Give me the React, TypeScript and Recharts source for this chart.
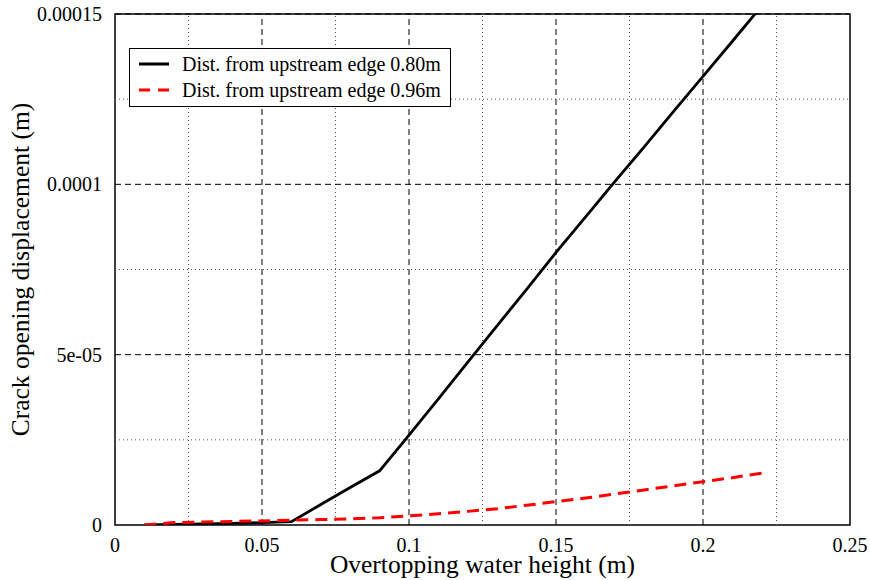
import React from 'react';
import { LineChart, Line, XAxis, YAxis, ReferenceLine, ReferenceArea, Legend } from 'recharts';

const waterHeights = [0.01, 0.02, 0.03, 0.04, 0.05, 0.06, 0.07, 0.08, 0.09, 0.10, 0.11, 0.12, 0.13, 0.14, 0.15, 0.16, 0.17, 0.18, 0.19, 0.20, 0.21, 0.22];
const dist080 = [0, 0.2e-6, 0.35e-6, 0.5e-6, 0.7e-6, 1.0e-6, 6.0e-6, 11.0e-6, 15.9e-6, 26.4e-6, 37.0e-6, 47.8e-6, 58.5e-6, 69.2e-6, 80.0e-6, 90.4e-6, 100.8e-6, 111.0e-6, 121.4e-6, 131.7e-6, 142.0e-6, 152.4e-6];
const dist096 = [0, 0.7e-6, 0.9e-6, 1.05e-6, 1.2e-6, 1.4e-6, 1.6e-6, 1.8e-6, 2.1e-6, 2.7e-6, 3.3e-6, 4.0e-6, 4.8e-6, 5.8e-6, 6.85e-6, 7.9e-6, 9.1e-6, 10.3e-6, 11.5e-6, 12.7e-6, 13.9e-6, 15.2e-6];

const seriesNames = ['Dist. from upstream edge 0.80m', 'Dist. from upstream edge 0.96m'];

const xTicks = [0, 0.05, 0.1, 0.15, 0.2, 0.25];
const xTickLabels = ['0', '0.05', '0.1', '0.15', '0.2', '0.25'];
const xMinor = [0.025, 0.075, 0.125, 0.175, 0.225];
const yTicks = [0, 0.00005, 0.0001, 0.00015];
const yTickLabels = ['0', '5e-05', '0.0001', '0.00015'];
const yMinor = [0.000025, 0.000075, 0.000125];

const data = waterHeights.map((x, i) => ({ x, a: dist080[i], b: dist096[i] }));

const FONT = '"Liberation Serif", "Times New Roman", Tinos, "DejaVu Serif", serif';

const LegendBox = () => (
  <div
    style={{
      background: '#fff',
      border: '1.2px solid #000',
      padding: '2px 8px 3px 8px',
      fontFamily: FONT,
      fontSize: 20,
      color: '#000',
      lineHeight: '26px',
      whiteSpace: 'nowrap',
      width: 322,
      boxSizing: 'border-box',
    }}
  >
    {[0, 1].map((i) => (
      <div key={i} style={{ display: 'flex', alignItems: 'center' }}>
        <svg width={40} height={10} style={{ marginRight: 4, flex: 'none' }}>
          <line
            x1={1}
            x2={31}
            y1={5}
            y2={5}
            stroke={i === 0 ? '#000' : '#ff0000'}
            strokeWidth={3}
            strokeDasharray={i === 0 ? undefined : '11 8'}
          />
        </svg>
        <span>{seriesNames[i]}</span>
      </div>
    ))}
  </div>
);

export default function App() {
  return (
    <div style={{ position: 'absolute', left: 0, top: 0, width: 870, height: 580, background: '#fff' }}>
      <LineChart width={870} height={580} data={data} margin={{ top: 14, right: 20, bottom: 0, left: 0 }}>
        <XAxis
          type="number"
          dataKey="x"
          domain={[0, 0.25]}
          ticks={xTicks}
          tickFormatter={(v: number) => xTickLabels[xTicks.findIndex((t) => Math.abs(t - v) < 1e-9)] ?? String(v)}
          axisLine={false}
          tickLine={false}
          tickMargin={7}
          height={55}
          tick={{ fill: '#000', fontSize: 20, fontFamily: FONT }}
          label={{ value: 'Overtopping water height (m)', position: 'insideBottom', offset: 7, fill: '#000', fontSize: 25.5, fontFamily: FONT }}
        />
        <YAxis
          type="number"
          domain={[0, 0.00015]}
          allowDataOverflow
          ticks={yTicks}
          tickFormatter={(v: number) => yTickLabels[yTicks.findIndex((t) => Math.abs(t - v) < 1e-12)] ?? String(v)}
          axisLine={false}
          tickLine={false}
          tickMargin={7}
          width={115}
          tick={{ fill: '#000', fontSize: 20, fontFamily: FONT }}
          label={{ value: 'Crack opening displacement (m)', angle: -90, position: 'insideLeft', offset: 20, fill: '#000', fontSize: 25.5, fontFamily: FONT, style: { textAnchor: 'middle' } }}
        />
        {xMinor.map((v) => (
          <ReferenceLine key={'xm' + v} x={v} stroke="#555" strokeWidth={1} strokeDasharray="1 3" />
        ))}
        {yMinor.map((v) => (
          <ReferenceLine key={'ym' + v} y={v} stroke="#555" strokeWidth={1} strokeDasharray="1 3" />
        ))}
        {xTicks.slice(1, -1).map((v) => (
          <ReferenceLine key={'xM' + v} x={v} stroke="#000" strokeWidth={1} strokeDasharray="6 4" />
        ))}
        {yTicks.slice(1).map((v) => (
          <ReferenceLine key={'yM' + v} y={v} stroke="#000" strokeWidth={1} strokeDasharray="6 4" />
        ))}
        <ReferenceArea x1={0} x2={0.25} y1={0} y2={0.00015} fill="none" stroke="#000" strokeWidth={1.5} fillOpacity={0} />
        <Line
          type="linear"
          dataKey="a"
          name={seriesNames[0]}
          stroke="#000"
          strokeWidth={2.8}
          dot={false}
          isAnimationActive={false}
        />
        <Line
          type="linear"
          dataKey="b"
          name={seriesNames[1]}
          stroke="#ff0000"
          strokeWidth={3}
          strokeDasharray="12 7"
          dot={false}
          isAnimationActive={false}
        />
        <Legend
          layout="vertical"
          align="center"
          verticalAlign="middle"
          content={() => <LegendBox />}
          wrapperStyle={{ position: 'absolute', left: 129, top: 48, width: 'auto', height: 'auto' }}
        />
      </LineChart>
    </div>
  );
}
